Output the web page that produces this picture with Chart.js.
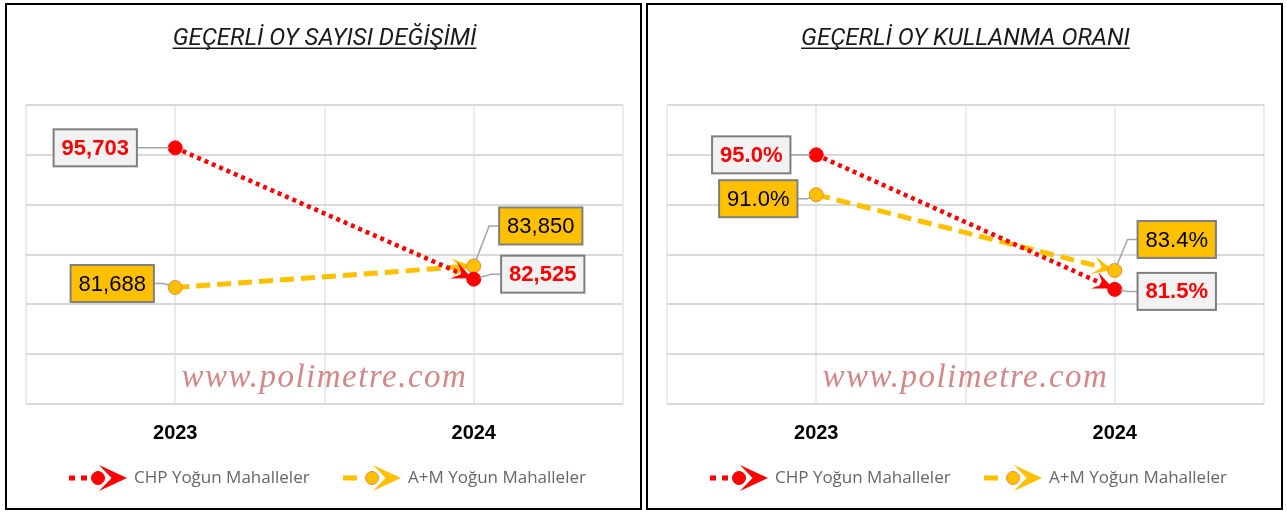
<!DOCTYPE html>
<html>
<head>
<meta charset="utf-8">
<script src="https://cdn.jsdelivr.net/npm/chart.js@4.4.1/dist/chart.umd.min.js"></script>
<style>
body { margin: 0; background: #fff; width: 1287px; height: 512px; position: relative; overflow: hidden; }
.panel { position: absolute; top: 3px; width: 633px; height: 503px; border: 2px solid #000; background: #fff; }
#p1 { left: 5px; }
#p2 { left: 646px; }
canvas { display: block; }
</style>
</head>
<body>
<div class="panel" id="p1"><canvas id="chartVotes"></canvas></div>
<div class="panel" id="p2"><canvas id="chartRate"></canvas></div>
<script>
const years = ['2023', '2024'];
const seriesNames = ['CHP Yoğun Mahalleler', 'A+M Yoğun Mahalleler'];

const chpVotes = [95703, 82525];
const amVotes = [81688, 83850];
const votesAxis = [70000, 100000, 5000];

const chpRate = [95.0, 81.5];
const amRate = [91.0, 83.4];
const rateAxis = [70, 100, 5];

const RED = '#ff0000';
const GOLD = '#ffc000';

function points(values) {
    return years.map((y, i) => ({ x: i, y: values[i] }));
}

function stealth(ctx, x, y, ang, len, half, color) {
    ctx.save();
    ctx.translate(x, y);
    ctx.rotate(ang);
    ctx.beginPath();
    ctx.moveTo(0, 0);
    ctx.lineTo(-len, -half);
    ctx.lineTo(-len * 0.55, 0);
    ctx.lineTo(-len, half);
    ctx.closePath();
    ctx.fillStyle = color;
    ctx.fill();
    ctx.restore();
}

// title, watermark, arrows, data labels and legend
const decor = {
    id: 'decor',
    beforeDatasetsDraw(chart) {
        const a = chart.chartArea;
        const ctx = chart.ctx;
        ctx.save();
        ctx.font = 'italic 33px "Liberation Serif"';
        ctx.letterSpacing = '1.5px';
        ctx.fillStyle = 'rgba(200,105,105,0.8)';
        ctx.textAlign = 'center';
        ctx.textBaseline = 'alphabetic';
        ctx.fillText('www.polimetre.com', (a.left + a.right) / 2, a.bottom - 17);
        ctx.restore();
    },
    beforeDatasetDraw(chart, args) {
        const ds = chart.data.datasets[args.index];
        const pts = args.meta.data;
        const p0 = pts[pts.length - 2], p1 = pts[pts.length - 1];
        const ang = Math.atan2(p1.y - p0.y, p1.x - p0.x);
        stealth(chart.ctx, p1.x - 2 * Math.cos(ang), p1.y - 2 * Math.sin(ang), ang, 20, 9, ds.borderColor);
    },
    afterDraw(chart, args, opts) {
        const ctx = chart.ctx;
        const a = chart.chartArea;
        const cx = (a.left + a.right) / 2;

        // title
        ctx.save();
        ctx.font = 'italic 24px Roboto';
        ctx.fillStyle = '#1a1a1a';
        ctx.textAlign = 'center';
        ctx.textBaseline = 'alphabetic';
        const tw = ctx.measureText(opts.title).width;
        ctx.fillText(opts.title, cx, 40);
        ctx.fillRect(cx - tw / 2, 42.5, tw, 1.5);
        ctx.restore();

        // data labels
        chart.data.datasets.forEach((ds, i) => {
            const meta = chart.getDatasetMeta(i);
            meta.data.forEach((p, j) => {
                const text = opts.format(ds.data[j].y);
                const off = ds.labelOffsets[j];
                ctx.save();
                ctx.font = (ds.labelBold ? 'bold ' : '') + '22px "Liberation Sans"';
                const w = ctx.measureText(text).width + 16;
                const h = 37;
                const bx = p.x + off[0], by = p.y + off[1];
                const left = bx - w / 2, top = by - h / 2;
                // leader
                const ex = off[0] > 0 ? left : left + w;
                const elx = off[0] > 0 ? ex - 10 : ex + 10;
                const d = Math.hypot(elx - p.x, by - p.y) || 1;
                ctx.strokeStyle = '#a6a6a6';
                ctx.lineWidth = 1.5;
                ctx.beginPath();
                ctx.moveTo(p.x + (elx - p.x) / d * 6, p.y + (by - p.y) / d * 6);
                ctx.lineTo(elx, by);
                ctx.lineTo(ex, by);
                ctx.stroke();
                // box
                ctx.fillStyle = ds.labelFill;
                ctx.fillRect(left, top, w, h);
                ctx.strokeStyle = '#7f7f7f';
                ctx.lineWidth = 2;
                ctx.strokeRect(left, top, w, h);
                ctx.fillStyle = ds.labelColor;
                ctx.textAlign = 'center';
                ctx.textBaseline = 'middle';
                ctx.fillText(text, bx, by + 1);
                ctx.restore();
            });
        });

        // legend
        const ly = a.bottom + 74;
        const starts = [a.left + 43, a.left + 317];
        chart.data.datasets.forEach((ds, i) => {
            const x0 = starts[i];
            ctx.save();
            ctx.strokeStyle = ds.borderColor;
            ctx.lineWidth = 5;
            ctx.setLineDash(i === 0 ? [6, 6] : [14, 6]);
            ctx.beginPath();
            ctx.moveTo(x0, ly);
            ctx.lineTo(x0 + (i === 0 ? 20 : 14), ly);
            ctx.stroke();
            ctx.setLineDash([]);
            stealth(ctx, x0 + 58, ly, 0, 28, 13, ds.borderColor);
            ctx.beginPath();
            ctx.arc(x0 + 29, ly, 6.5, 0, Math.PI * 2);
            ctx.fillStyle = ds.pointBackgroundColor;
            ctx.fill();
            ctx.lineWidth = 1;
            ctx.strokeStyle = ds.pointBorderColor;
            ctx.stroke();
            ctx.font = '17px "Open Sans"';
            ctx.fillStyle = '#666666';
            ctx.textBaseline = 'middle';
            ctx.fillText(ds.label, x0 + 65, ly);
            ctx.restore();
        });
    }
};

function makeConfig(title, chpValues, amValues, axis, format, offsets) {
    return {
        type: 'line',
        data: {
            datasets: [{
                label: seriesNames[0],
                data: points(chpValues),
                borderColor: RED,
                borderWidth: 4.5,
                borderDash: [4, 4],
                pointRadius: 7,
                pointBackgroundColor: RED,
                pointBorderColor: RED,
                pointBorderWidth: 1,
                labelOffsets: offsets[0],
                labelFill: '#f2f2f2',
                labelColor: RED,
                labelBold: true,
            }, {
                label: seriesNames[1],
                data: points(amValues),
                borderColor: GOLD,
                borderWidth: 5,
                borderDash: [14, 7],
                pointRadius: 7,
                pointBackgroundColor: GOLD,
                pointBorderColor: '#f08a3a',
                pointBorderWidth: 1,
                labelOffsets: offsets[1],
                labelFill: GOLD,
                labelColor: '#000',
                labelBold: false,
            }]
        },
        options: {
            responsive: true,
            maintainAspectRatio: false,
            animation: false,
            layout: { padding: { left: 19, right: 17, top: 100, bottom: 46 } },
            plugins: {
                legend: { display: false },
                tooltip: { enabled: false },
                decor: { title: title, format: format }
            },
            scales: {
                x: {
                    type: 'linear',
                    min: -0.5,
                    max: 1.5,
                    border: { display: false },
                    grid: { color: '#ebebeb', lineWidth: 2, drawTicks: false },
                    ticks: {
                        stepSize: 0.5,
                        padding: 17,
                        color: '#000',
                        font: { family: '"Liberation Sans"', size: 20, weight: 'bold' },
                        callback: (v) => Number.isInteger(v) ? years[v] : ''
                    }
                },
                y: {
                    min: axis[0],
                    max: axis[1],
                    border: { display: false },
                    grid: { color: '#d9d9d9', lineWidth: 2, drawTicks: false },
                    ticks: { stepSize: axis[2], display: false }
                }
            }
        },
        plugins: [decor]
    };
}

new Chart(
    document.getElementById('chartVotes'),
    makeConfig('GEÇERLİ OY SAYISI DEĞİŞİMİ', chpVotes, amVotes, votesAxis,
        (v) => v.toLocaleString('en-US'),
        [[[-80, 0], [69, -5]], [[-63, -4], [67, -40]]])
);

new Chart(
    document.getElementById('chartRate'),
    makeConfig('GEÇERLİ OY KULLANMA ORANI', chpRate, amRate, rateAxis,
        (v) => v.toFixed(1) + '%',
        [[[-65, 0], [62, 2]], [[-58, 4], [62, -31]]])
);
</script>
</body>
</html>
